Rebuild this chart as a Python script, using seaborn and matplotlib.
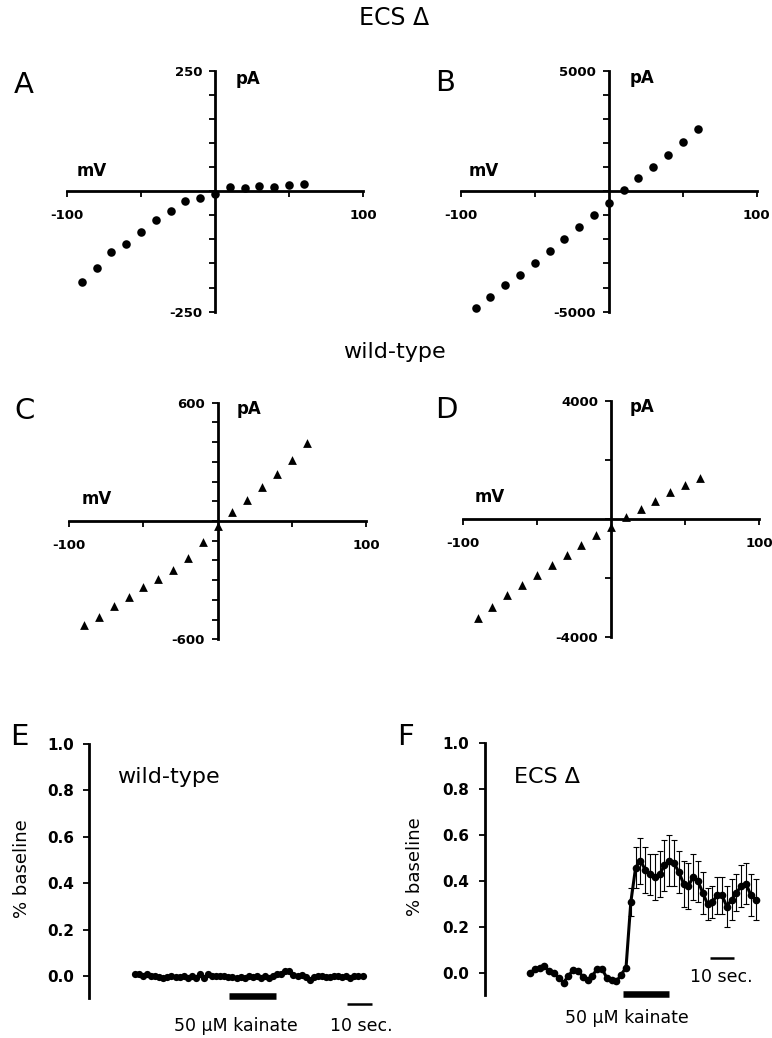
import numpy as np
import matplotlib
matplotlib.use('Agg')
import matplotlib.pyplot as plt
import seaborn as sns

# ---------------- data ----------------
# I-V curves (membrane potential in mV, current in pA)
mv = [-90, -80, -70, -60, -50, -40, -30, -20, -10, 0, 10, 20, 30, 40, 50, 60]
a_pa = [-188, -159, -127, -109, -85, -60, -42, -21, -14, -5, 8, 7, 10, 9, 12, 14]
b_pa = [-4830, -4370, -3910, -3460, -2970, -2500, -1990, -1470, -980, -470,
        70, 550, 1020, 1520, 2050, 2570]
c_pa = [-527, -485, -433, -387, -336, -294, -250, -189, -106, -25,
        47, 105, 172, 237, 309, 397]
d_pa = [-3360, -2980, -2580, -2240, -1910, -1580, -1230, -890, -550, -270,
        70, 340, 610, 890, 1140, 1380]

# time courses (% baseline)
e_dt = 1.73   # s between samples, wild-type
e_vals = [0.012, 0.012, 0.003, 0.010, 0.002, 0.000, -0.003, -0.008, -0.002, 0.000,
          -0.005, -0.002, 0.000, -0.008, 0.000, -0.008, 0.012, -0.008, 0.010, 0.002,
          0.000, 0.000, 0.000, -0.003, -0.002, -0.008, -0.003, -0.008, 0.000, -0.005,
          0.000, -0.008, 0.000, -0.008, 0.003, 0.008, 0.012, 0.022, 0.025, 0.005,
          0.003, 0.005, -0.003, -0.015, -0.005, 0.000, 0.002, -0.003, -0.005, 0.000,
          0.003, -0.003, 0.000, -0.008, 0.003, 0.002, 0.003]

f_dt = 2.0    # s between samples, ECS delta
f_vals = [0.0, 0.02, 0.025, 0.03, 0.01, 0.0, -0.02, -0.04, -0.01, 0.015,
          0.012, -0.015, -0.03, -0.01, 0.02, 0.02, -0.02, -0.03, -0.035, -0.005,
          0.025,
          0.31, 0.46, 0.49, 0.45, 0.43, 0.42, 0.43, 0.47, 0.49, 0.48,
          0.44, 0.39, 0.38, 0.42, 0.40, 0.35, 0.30, 0.31, 0.34, 0.34,
          0.29, 0.32, 0.35, 0.38, 0.39, 0.34, 0.32]
f_err = [0.0] * 21 + [0.06, 0.09, 0.10, 0.10, 0.09, 0.10, 0.10, 0.11, 0.11, 0.10,
                      0.09, 0.10, 0.10, 0.10, 0.09, 0.09, 0.07, 0.07, 0.08, 0.08,
                      0.09, 0.09, 0.08, 0.09, 0.09, 0.09, 0.09]

e_kainate = [40.1, 60.0]
e_scalebar = [90.1, 100.7]
f_kainate = [38.6, 57.8]
f_scalebar = [75.0, 84.9]

# ---------------- style ----------------
sns.set_style('ticks')
plt.rcParams['font.family'] = ['DejaVu Sans']
for key in ['text.color', 'axes.labelcolor', 'xtick.color', 'ytick.color',
            'axes.edgecolor']:
    plt.rcParams[key] = 'black'

W, H = 772, 1038
fig = plt.figure(figsize=(W / 100, H / 100), dpi=100)


def px(x0, y0, x1, y1):
    # pixel box -> figure fraction rect
    return [x0 / W, 1 - y1 / H, (x1 - x0) / W, (y1 - y0) / H]


def ftxt(x, y, s, **kw):
    fig.text(x / W, 1 - y / H, s, ha='center', va='center', **kw)


def iv_panel(rect, y, lim, step, marker, size, mv_pos, pa_pos):
    ax = fig.add_axes(rect)
    sns.scatterplot(x=mv, y=y, marker=marker, color='black', s=size,
                    linewidth=0, legend=False, ax=ax, zorder=3, clip_on=False)
    ax.set_xlim(-100, 100)
    ax.set_ylim(-lim, lim)
    for side in ['top', 'right']:
        ax.spines[side].set_visible(False)
    ax.spines['left'].set_position(('data', 0))
    ax.spines['bottom'].set_position(('data', 0))
    for side in ['left', 'bottom']:
        ax.spines[side].set_linewidth(2)
    ax.set_xticks([-100, -50, 50, 100])
    ax.set_xticklabels(['-100', '', '', '100'], fontweight='bold')
    yt = np.arange(-lim, lim + 1, step)
    ax.set_yticks(yt)
    ax.set_yticklabels([str(int(v)) if abs(v) == lim else '' for v in yt],
                       fontweight='bold')
    ax.tick_params(axis='x', direction='out', length=4, width=1.3,
                   labelsize=9.5, pad=9)
    ax.tick_params(axis='y', direction='out', length=4.3, width=1.3,
                   labelsize=9.5, pad=5)
    ax.set_xlabel('')
    ax.set_ylabel('')
    ax.text(mv_pos[0], mv_pos[1], 'mV', transform=ax.transAxes, ha='center',
            va='center', fontsize=12, fontweight='bold')
    ax.text(pa_pos[0], pa_pos[1], 'pA', transform=ax.transAxes, ha='center',
            va='center', fontsize=12, fontweight='bold')
    return ax


iv_panel(px(67, 70.7, 363, 311.7), a_pa, 250, 50, 'o', 38, (0.085, 0.585), (0.61, 0.965))
iv_panel(px(460.7, 70.7, 756.7, 311.7), b_pa, 5000, 1000, 'o', 38, (0.079, 0.585), (0.612, 0.97))
iv_panel(px(69.3, 402.7, 366, 639.3), c_pa, 600, 100, '^', 40, (0.092, 0.593), (0.604, 0.975))
iv_panel(px(462.7, 400.7, 759.3, 636.7), d_pa, 4000, 2000, '^', 40, (0.092, 0.593), (0.604, 0.975))


def time_panel(rect, t, vals, err, xlim, ylim, label, label_pos, ylab_x, msize):
    ax = fig.add_axes(rect)
    if err is not None:
        ax.errorbar(t, vals, yerr=err, fmt='none', ecolor='black',
                    elinewidth=0.8, capsize=2.5, capthick=0.8, zorder=2)
    sns.lineplot(x=t, y=vals, color='black', lw=2.2, marker='o', markersize=msize,
                 markeredgewidth=0, ax=ax, zorder=3)
    ax.set_xlim(*xlim)
    ax.set_ylim(*ylim)
    for side in ['top', 'right', 'bottom']:
        ax.spines[side].set_visible(False)
    ax.spines['left'].set_linewidth(2)
    ax.set_xticks([])
    ax.set_yticks([0, 0.2, 0.4, 0.6, 0.8, 1.0])
    ax.set_yticklabels(['0.0', '0.2', '0.4', '0.6', '0.8', '1.0'], fontweight='bold')
    ax.tick_params(axis='y', direction='out', length=4, width=1.3,
                   labelsize=11, pad=7)
    ax.set_xlabel('')
    ax.set_ylabel('% baseline', fontsize=13)
    ax.yaxis.set_label_coords(ylab_x, 0.51)
    ax.text(label_pos[0], label_pos[1], label, transform=ax.transAxes,
            ha='left', va='center', fontsize=16)
    return ax


e_t = np.arange(len(e_vals)) * e_dt
f_t = np.arange(len(f_vals)) * f_dt

ax_e = time_panel(px(89.3, 744, 380, 997.7), e_t, e_vals, None, (-19.4, 104.3),
                  (-0.092, 1.0), 'wild-type', (0.094, 0.871), -0.2, 5.2)
ax_e.plot(e_kainate, [-0.083, -0.083], color='black', lw=4.7,
          solid_capstyle='butt', clip_on=False)
ax_e.plot(e_scalebar, [-0.117, -0.117], color='black', lw=1.8,
          solid_capstyle='butt', clip_on=False)

ax_f = time_panel(px(484.7, 743.3, 770, 995), f_t, f_vals, f_err, (-18.9, 100.0),
                  (-0.094, 1.0), 'ECS \u0394', (0.103, 0.866), -0.213, 5.5)
ax_f.plot(f_kainate, [-0.09, -0.09], color='black', lw=4.7,
          solid_capstyle='butt', clip_on=False)
ax_f.plot(f_scalebar, [0.065, 0.065], color='black', lw=1.8,
          solid_capstyle='butt')

# ---------------- text ----------------
ftxt(394, 18.3, 'ECS \u0394', fontsize=17)
ftxt(394, 352, 'wild-type', fontsize=16)
for letter, (x, y) in zip('ABCDEF', [(24, 85), (445, 83), (25, 411), (446, 410),
                                     (19, 737), (406, 737)]):
    ftxt(x, y, letter, fontsize=21)

ftxt(236, 1026, '50 \u00b5M kainate', fontsize=12.5)
ftxt(361, 1026, '10 sec.', fontsize=12.5)
ftxt(627, 1018, '50 \u00b5M kainate', fontsize=12.5)
ftxt(721, 977, '10 sec.', fontsize=12.5)

fig.savefig('out.png', dpi=100)
